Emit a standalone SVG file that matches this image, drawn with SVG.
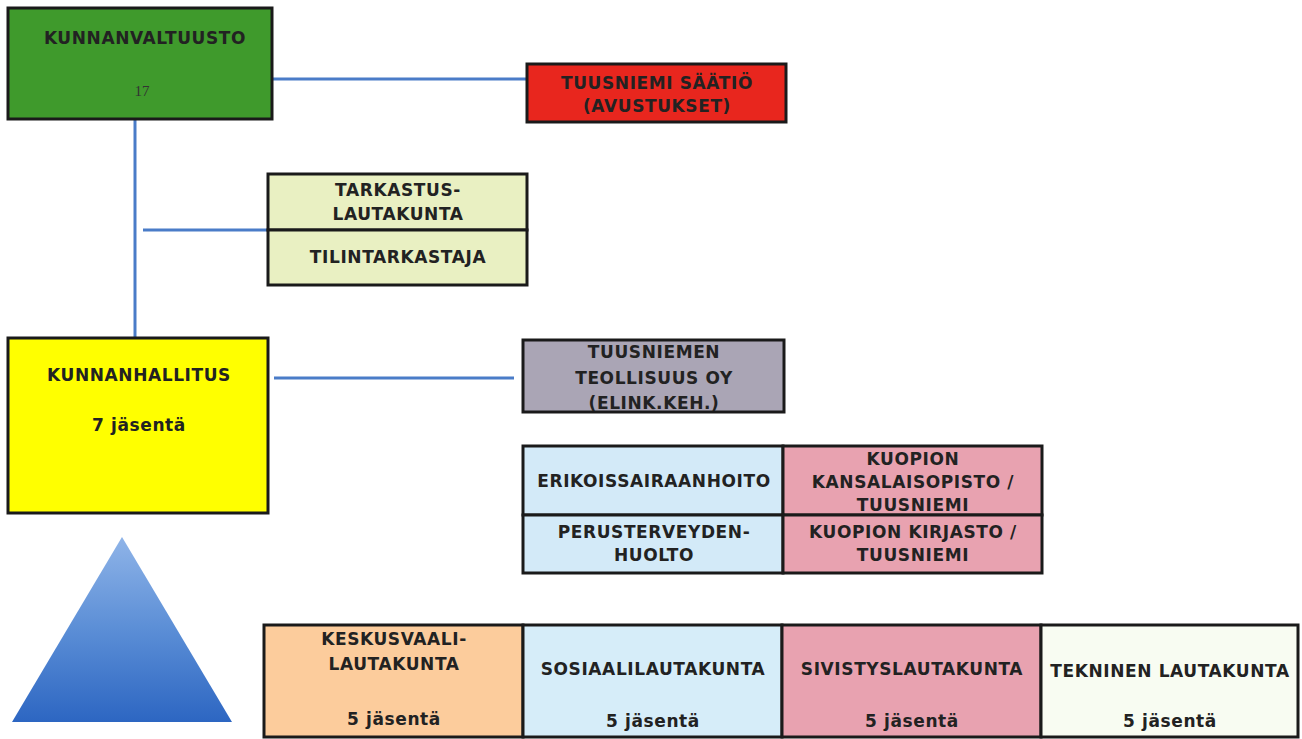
<svg xmlns="http://www.w3.org/2000/svg" width="1302" height="739" viewBox="0 0 1302 739">
<style>
.b{stroke:#1a1a1a;stroke-width:3}
.t{font-family:"DejaVu Sans",Verdana,sans-serif;font-weight:bold;font-size:17px;letter-spacing:0.6px;fill:#222;text-anchor:middle}
.c{stroke:#4a7cc8;stroke-width:3;fill:none}
</style>
<defs>
<linearGradient id="tri" x1="0" y1="0" x2="0" y2="1">
<stop offset="0" stop-color="#8fb4e8"/>
<stop offset="0.5" stop-color="#5b8ed6"/>
<stop offset="1" stop-color="#2d66c2"/>
</linearGradient>
</defs>
<rect width="1302" height="739" fill="#fff"/>
<g id="connectors">
<line class="c" x1="272" y1="79" x2="527" y2="79"/>
<line class="c" x1="135" y1="119" x2="135" y2="338"/>
<line class="c" x1="143" y1="230" x2="268" y2="230"/>
<line class="c" x1="274" y1="378" x2="514" y2="378"/>
</g>
<g id="kunnanvaltuusto">
<rect class="b" x="8" y="8" width="264" height="111" fill="#3f9a2c"/>
<text class="t" x="145" y="44">KUNNANVALTUUSTO</text>
<text x="142" y="96" font-family="Liberation Serif,serif" font-size="15" fill="#333" text-anchor="middle">17</text>
</g>
<g id="saatio">
<rect class="b" x="527" y="64" width="259" height="58" fill="#e8261e"/>
<text class="t" x="657" y="89">TUUSNIEMI SÄÄTIÖ</text>
<text class="t" x="657" y="112">(AVUSTUKSET)</text>
</g>
<g id="tarkastus">
<rect class="b" x="268" y="174" width="259" height="56" fill="#e9f0c2"/>
<text class="t" x="398" y="196">TARKASTUS-</text>
<text class="t" x="398" y="220">LAUTAKUNTA</text>
</g>
<g id="tilintarkastaja">
<rect class="b" x="268" y="230" width="259" height="55" fill="#e9f0c2"/>
<text class="t" x="398" y="263">TILINTARKASTAJA</text>
</g>
<g id="kunnanhallitus">
<rect class="b" x="8" y="338" width="260" height="175" fill="#ffff00"/>
<text class="t" x="139" y="381">KUNNANHALLITUS</text>
<text class="t" x="139" y="431">7 jäsentä</text>
</g>
<g id="teollisuus">
<rect class="b" x="523" y="340" width="261" height="72" fill="#aaa5b5"/>
<text class="t" x="654" y="358">TUUSNIEMEN</text>
<text class="t" x="654" y="384">TEOLLISUUS OY</text>
<text class="t" x="654" y="409">(ELINK.KEH.)</text>
</g>
<g id="erikoissairaanhoito">
<rect class="b" x="523" y="446" width="260" height="69" fill="#d3eaf8"/>
<text class="t" x="654" y="487">ERIKOISSAIRAANHOITO</text>
</g>
<g id="kansalaisopisto">
<rect class="b" x="783" y="446" width="259" height="69" fill="#e8a2b0"/>
<text class="t" x="913" y="465">KUOPION</text>
<text class="t" x="913" y="488">KANSALAISOPISTO /</text>
<text class="t" x="913" y="511">TUUSNIEMI</text>
</g>
<g id="perusterveydenhuolto">
<rect class="b" x="523" y="515" width="260" height="58" fill="#d3eaf8"/>
<text class="t" x="654" y="538">PERUSTERVEYDEN-</text>
<text class="t" x="654" y="561">HUOLTO</text>
</g>
<g id="kirjasto">
<rect class="b" x="783" y="515" width="259" height="58" fill="#e8a2b0"/>
<text class="t" x="913" y="538">KUOPION KIRJASTO /</text>
<text class="t" x="913" y="561">TUUSNIEMI</text>
</g>
<g id="pyramid">
<polygon points="122,537 232,722 12,722" fill="url(#tri)"/>
</g>
<g id="keskusvaalilautakunta">
<rect class="b" x="264" y="625" width="259" height="112" fill="#fccc9c"/>
<text class="t" x="394" y="645">KESKUSVAALI-</text>
<text class="t" x="394" y="670">LAUTAKUNTA</text>
<text class="t" x="394" y="725">5 jäsentä</text>
</g>
<g id="sosiaalilautakunta">
<rect class="b" x="523" y="625" width="259" height="112" fill="#d6edf9"/>
<text class="t" x="653" y="675">SOSIAALILAUTAKUNTA</text>
<text class="t" x="653" y="727">5 jäsentä</text>
</g>
<g id="sivistyslautakunta">
<rect class="b" x="782" y="625" width="259" height="112" fill="#e8a2b0"/>
<text class="t" x="912" y="675">SIVISTYSLAUTAKUNTA</text>
<text class="t" x="912" y="727">5 jäsentä</text>
</g>
<g id="tekninenlautakunta">
<rect class="b" x="1041" y="625" width="257" height="112" fill="#f8fcf2"/>
<text class="t" x="1170" y="677">TEKNINEN LAUTAKUNTA</text>
<text class="t" x="1170" y="727">5 jäsentä</text>
</g>
</svg>
